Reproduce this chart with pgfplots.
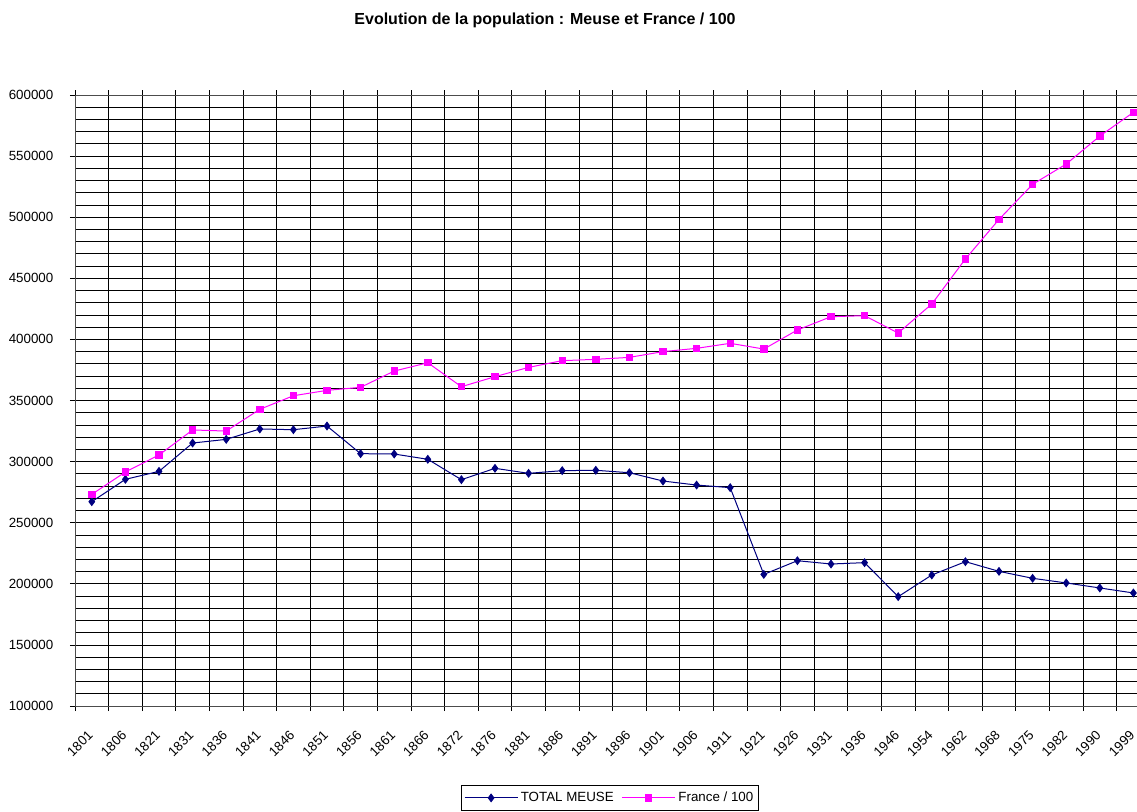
\documentclass[border=0pt]{standalone}
\usepackage{pgfplots}
\pgfplotsset{compat=1.18}
\usepackage{fontspec}
\setmainfont{Liberation Sans}
\definecolor{meuse}{RGB}{0,0,128}
\definecolor{fra}{RGB}{255,0,255}
\begin{document}
\begin{tikzpicture}
\useasboundingbox (0,0) rectangle (852.75pt,608.25pt);
\clip (0,0) rectangle (852.75pt,608.25pt);
\node[font=\bfseries\fontsize{12}{14}\selectfont] at (408.75pt,593.25pt) {Evolution de la population : Meuse et France / 100};
\begin{axis}[
  at={(56.25pt,78.75pt)}, anchor=south west,
  scale only axis, width=806.4pt, height=458.25pt,
  xmin=-0.5, xmax=31.5, ymin=100000, ymax=600000,
  xtick={0,...,31},
  xticklabels={1801,1806,1821,1831,1836,1841,1846,1851,1856,1861,1866,1872,1876,1881,1886,1891,1896,1901,1906,1911,1921,1926,1931,1936,1946,1954,1962,1968,1975,1982,1990,1999},
  minor xtick={-0.5,0.5,...,31.5},
  xminorgrids=true, xmajorgrids=false,
  ytick={100000,150000,...,600000},
  minor ytick={110000,120000,...,590000},
  ymajorgrids=true, yminorgrids=true,
  tick align=outside, major tick length=3.75pt, minor tick length=3.75pt,
  every major x tick/.append style={draw=none},
  every minor y tick/.append style={draw=none},
  grid style={black, line width=0.6pt},
  minor grid style={black, line width=0.6pt},
  axis line style={black!70, line width=0.7pt},
  tick style={black, line width=0.6pt},
  scaled y ticks=false,
  yticklabel style={/pgf/number format/fixed, /pgf/number format/1000 sep={}, font=\fontsize{10}{12}\selectfont, xshift=-9pt},
  /pgf/number format/assume math mode=true,
  xticklabel style={rotate=45, anchor=east, font=\fontsize{10}{12}\selectfont, xshift=-8.9pt, yshift=-11pt},
  legend style={at={(0.4976,-0.1293)}, anchor=north, legend columns=2, draw=black, line width=0.6pt,
    font=\fontsize{10}{12}\selectfont, inner xsep=2pt, inner ysep=3pt,
    /tikz/every even column/.append style={column sep=4pt}},
  legend image code/.code={\draw[mark repeat=2,mark phase=2] plot coordinates {(0cm,0cm) (0.7cm,0cm) (1.4cm,0cm)};},
]
\addplot[meuse, line width=0.75pt, mark=diamond*, mark size=2.8pt, mark options={fill=meuse, draw=meuse}] coordinates {
(0,267200) (1,285500) (2,292000) (3,315200) (4,318200) (5,326700) (6,326100) (7,329100)
(8,306500) (9,306200) (10,301900) (11,285200) (12,294500) (13,290400) (14,292600) (15,292900)
(16,290900) (17,284100) (18,280800) (19,278700) (20,207700) (21,218900) (22,216200) (23,217300)
(24,189500) (25,207200) (26,218100) (27,210200) (28,204500) (29,200700) (30,196600) (31,192500)};
\addlegendentry{TOTAL MEUSE}
\addplot[fra, line width=0.75pt, mark=square*, mark size=2.4pt, mark options={fill=fra, draw=fra}] coordinates {
(0,273200) (1,291500) (2,305400) (3,325900) (4,325000) (5,342800) (6,353900) (7,358300)
(8,360800) (9,374100) (10,380900) (11,361300) (12,369500) (13,377100) (14,382600) (15,383700)
(16,385300) (17,390000) (18,392700) (19,396800) (20,392100) (21,407700) (22,418600) (23,419400)
(24,405200) (25,429000) (26,465800) (27,498200) (28,526900) (29,543500) (30,566400) (31,585800)};
\addlegendentry{France / 100}
\end{axis}
\end{tikzpicture}
\end{document}
